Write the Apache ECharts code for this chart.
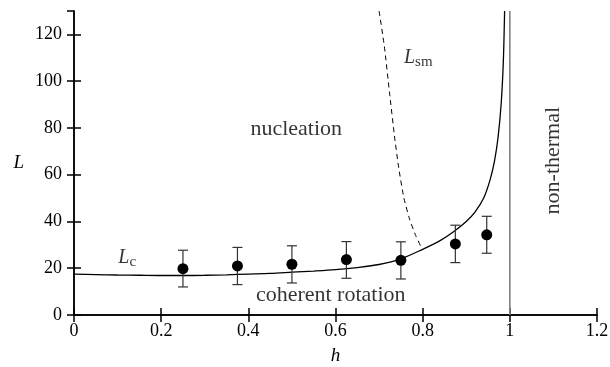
<!DOCTYPE html>
<html><head><meta charset="utf-8">
<script src="https://cdn.jsdelivr.net/npm/echarts@6/dist/echarts.min.js"></script>
<style>html,body{margin:0;padding:0;background:#fff}#c{width:610px;height:367px}</style>
</head><body><div id="c"></div>
<script>
// Critical length L_c (solid curve)
var lcH = [0, 0.05, 0.1, 0.15, 0.2, 0.25, 0.3, 0.35, 0.4, 0.45, 0.5, 0.55, 0.6, 0.65, 0.7, 0.75, 0.8, 0.84, 0.87, 0.9, 0.92, 0.94, 0.955, 0.965, 0.973, 0.98, 0.985, 0.988];
var lcL = [17.5, 17.3, 17.1, 17.0, 16.9, 16.9, 17.0, 17.2, 17.5, 17.8, 18.3, 18.8, 19.4, 20.3, 21.6, 24.0, 28.1, 31.8, 35.5, 40.0, 44.0, 50, 58, 66, 76, 90, 108, 130];
// L_sm (dashed curve)
var smH = [0.700, 0.712, 0.724, 0.735, 0.745, 0.757, 0.770, 0.784, 0.799];
var smL = [130, 115, 95, 77, 63, 50, 41, 34, 28.1];
// Simulation points with error bars
var ptH = [0.25, 0.375, 0.5, 0.625, 0.75, 0.875, 0.947];
var ptL = [19.8, 21.0, 21.7, 23.7, 23.4, 30.4, 34.3];
var ptLo = [12.0, 13.0, 13.7, 15.7, 15.4, 22.4, 26.4];
var ptHi = [27.7, 28.9, 29.6, 31.4, 31.3, 38.4, 42.2];
// Boundary of non-thermal region
var boundH = 1;
var yMax = 130;

var FONT = 'Liberation Serif';
function zip(a, b) { return a.map(function (v, i) { return [v, b[i]]; }); }

var chart = echarts.init(document.getElementById('c'), null, {renderer: 'canvas'});
var axisCommon = {
  axisLine: {show: true, lineStyle: {color: '#000', width: 1.5}},
  axisTick: {show: true, inside: true, length: 7, lineStyle: {color: '#000', width: 1.5}},
  splitLine: {show: false}
};
chart.setOption({
  animation: false,
  backgroundColor: '#fff',
  grid: {left: 74, right: 13, top: 11, bottom: 52, containLabel: false, outerBoundsMode: 'none'},
  xAxis: [
    Object.assign({type: 'value', min: 0, max: 1.2, interval: 0.2, position: 'bottom',
      name: 'h', nameLocation: 'middle', nameGap: 31, nameMoveOverlap: false,
      nameTextStyle: {fontFamily: FONT, fontStyle: 'italic', fontSize: 19, color: '#000'},
      axisLabel: {fontFamily: FONT, fontSize: 18, color: '#000', margin: 7}}, axisCommon),
    Object.assign({type: 'value', min: 0, max: 1.2, interval: 0.2, position: 'top',
      axisLabel: {show: false}}, axisCommon)
  ],
  yAxis: [
    Object.assign({type: 'value', min: 0, max: yMax, interval: 20, position: 'left',
      name: 'L', nameLocation: 'middle', nameGap: 50, nameRotate: 0, nameMoveOverlap: false,
      nameTextStyle: {fontFamily: FONT, fontStyle: 'italic', fontSize: 19, color: '#000'},
      axisLabel: {fontFamily: FONT, fontSize: 18, color: '#000', margin: 12, showMaxLabel: false}}, axisCommon),
    Object.assign({type: 'value', min: 0, max: yMax, interval: 20, position: 'right',
      axisLabel: {show: false}}, axisCommon)
  ],
  series: [
    {type: 'line', data: zip(lcH, lcL), showSymbol: false, smooth: 0.3,
      lineStyle: {color: '#000', width: 1.3}, z: 3},
    {type: 'line', data: zip(smH, smL), showSymbol: false, smooth: 0.2,
      lineStyle: {color: '#000', width: 1, type: [5, 4]}, z: 3},
    {type: 'line', data: [[boundH, 0], [boundH, yMax]], showSymbol: false,
      lineStyle: {color: '#808080', width: 1.6}, z: 2},
    {type: 'custom', data: ptH.map(function (h, i) { return [h, ptLo[i], ptHi[i]]; }),
      renderItem: function (params, api) {
        var lo = api.coord([api.value(0), api.value(1)]);
        var hi = api.coord([api.value(0), api.value(2)]);
        var w = 5;
        var st = {stroke: '#333', lineWidth: 1.2};
        return {type: 'group', children: [
          {type: 'line', shape: {x1: lo[0], y1: lo[1], x2: hi[0], y2: hi[1]}, style: st},
          {type: 'line', shape: {x1: lo[0] - w, y1: lo[1], x2: lo[0] + w, y2: lo[1]}, style: st},
          {type: 'line', shape: {x1: hi[0] - w, y1: hi[1], x2: hi[0] + w, y2: hi[1]}, style: st}
        ]};
      }, z: 4},
    {type: 'scatter', data: zip(ptH, ptL), symbol: 'circle', symbolSize: 11,
      itemStyle: {color: '#000', opacity: 1}, z: 5},
    {type: 'scatter', symbolSize: 0, silent: true, z: 6,
      data: [
        {value: [0.51, 79.3], label: {formatter: 'nucleation'}},
        {value: [0.589, 8.6], label: {formatter: 'coherent rotation'}},
        {value: [0.122, 24.4], label: {formatter: '{i|L}{s|c}'}},
        {value: [0.79, 110], label: {formatter: '{i|L}{s|sm}'}},
        {value: [1.099, 66], label: {formatter: 'non-thermal', rotate: 90}}
      ],
      label: {show: true, position: 'inside', color: '#000', fontFamily: FONT, fontSize: 22,
        rich: {
          i: {fontFamily: FONT, fontStyle: 'italic', fontSize: 20, color: '#000'},
          s: {fontFamily: FONT, fontSize: 15, color: '#000', padding: [8, 0, 0, 0]}
        }}
    }
  ]
});
</script></body></html>
